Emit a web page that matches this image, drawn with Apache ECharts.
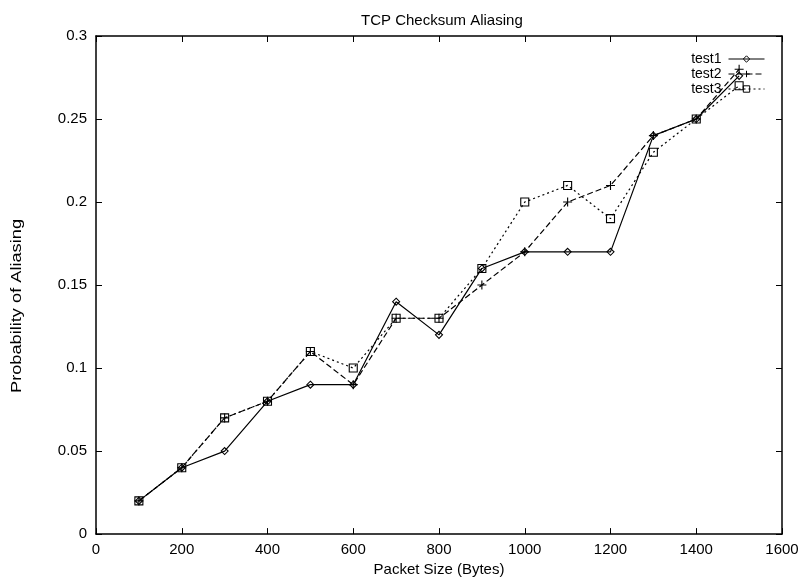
<!DOCTYPE html>
<html>
<head>
<meta charset="utf-8">
<script src="https://cdn.jsdelivr.net/npm/echarts@6/dist/echarts.min.js"></script>
<style>
  html, body { margin: 0; padding: 0; background: #fff; }
  #chart { width: 804px; height: 582px; }
</style>
</head>
<body>
<div id="chart"></div>
<script>
// Packet sizes (bytes) and measured aliasing probabilities per test run
const packetSizes = [100, 200, 300, 400, 500, 600, 700, 800, 900, 1000, 1100, 1200, 1300, 1400, 1500];
const test1 = [0.02, 0.04, 0.05, 0.08, 0.09, 0.09, 0.14, 0.12, 0.16, 0.17, 0.17, 0.17, 0.24, 0.25, 0.276];
const test2 = [0.02, 0.04, 0.07, 0.08, 0.11, 0.09, 0.13, 0.13, 0.15, 0.17, 0.20, 0.21, 0.24, 0.25, 0.28];
const test3 = [0.02, 0.04, 0.07, 0.08, 0.11, 0.10, 0.13, 0.13, 0.16, 0.20, 0.21, 0.19, 0.23, 0.25, 0.27];

const FONT = 'Liberation Sans';
const plusSymbol = 'path://M5,0L5,10M0,5L10,5';

function pairs(values) {
  return packetSizes.map((x, i) => [x, values[i]]);
}

function makeSeries(name, values, symbol, size, dash) {
  return {
    name: name,
    type: 'line',
    data: pairs(values),
    symbol: symbol,
    symbolSize: size,
    showAllSymbol: true,
    animation: false,
    lineStyle: { color: '#000', width: 1.2, type: dash },
    itemStyle: { color: 'transparent', borderColor: '#000', borderWidth: 1.1 },
    emphasis: { disabled: true }
  };
}

const chart = echarts.init(document.getElementById('chart'), null, { renderer: 'canvas' });

const axisLine = { show: true, onZero: false, lineStyle: { color: '#000', width: 1.5 } };
const tickStyle = { show: true, inside: true, length: 6, lineStyle: { color: '#000', width: 1 } };

chart.setOption({
  backgroundColor: '#fff',
  animation: false,
  title: {
    text: 'TCP Checksum Aliasing',
    left: 356,
    top: 8,
    textStyle: { fontFamily: FONT, fontSize: 15, fontWeight: 'normal', color: '#000' }
  },
  legend: {
    orient: 'vertical',
    right: 34,
    top: 47,
    align: 'right',
    itemWidth: 36,
    itemHeight: 8,
    itemGap: 1,
    lineStyle: { width: 1 },
    itemStyle: { borderWidth: 1 },
    textStyle: { fontFamily: FONT, fontSize: 14, color: '#000', padding: [0, 2, 0, 0] },
    data: ['test1', 'test2', 'test3']
  },
  grid: { left: 96, right: 22, top: 36, bottom: 38, containLabel: false },
  xAxis: [{
    type: 'value',
    min: 0, max: 1600, interval: 200,
    name: 'Packet Size (Bytes)',
    nameLocation: 'middle',
    nameGap: 25,
    nameTextStyle: { fontFamily: FONT, fontSize: 15, color: '#000' },
    axisLine: axisLine,
    axisTick: tickStyle,
    axisLabel: { fontFamily: FONT, fontSize: 15, color: '#000', margin: 8, formatter: v => String(v) },
    splitLine: { show: false }
  }, {
    type: 'value',
    position: 'top',
    min: 0, max: 1600, interval: 200,
    axisLine: axisLine,
    axisTick: tickStyle,
    axisLabel: { show: false },
    splitLine: { show: false }
  }],
  yAxis: [{
    type: 'value',
    min: 0, max: 0.3, interval: 0.05,
    axisLine: axisLine,
    axisTick: tickStyle,
    axisLabel: { fontFamily: FONT, fontSize: 15, color: '#000', margin: 9 },
    splitLine: { show: false }
  }, {
    type: 'value',
    position: 'right',
    min: 0, max: 0.3, interval: 0.05,
    axisLine: axisLine,
    axisTick: tickStyle,
    axisLabel: { show: false },
    splitLine: { show: false }
  }],
  graphic: [{
    type: 'text',
    x: 17,
    y: 306,
    rotation: Math.PI / 2,
    scaleX: 1.3,
    style: {
      text: 'Probability of Aliasing',
      font: '14px "' + FONT + '"',
      fill: '#000',
      align: 'center',
      verticalAlign: 'middle'
    }
  }],
  series: [
    makeSeries('test1', test1, 'diamond', 7, 'solid'),
    makeSeries('test2', test2, plusSymbol, 9, [6, 3]),
    makeSeries('test3', test3, 'rect', 8, [2, 3])
  ]
});
</script>
</body>
</html>
